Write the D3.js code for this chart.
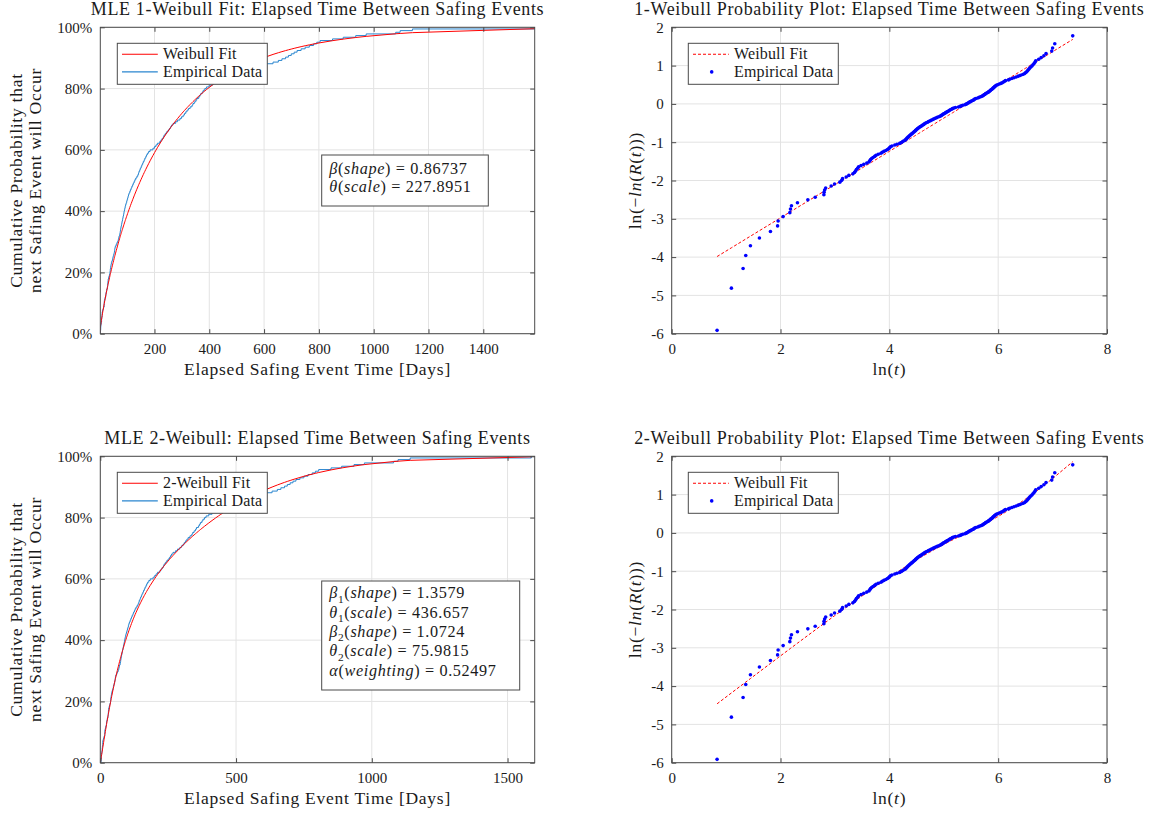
<!DOCTYPE html>
<html>
<head>
<meta charset="utf-8">
<script src="https://cdn.jsdelivr.net/npm/d3@7"></script>
<style>
  body { margin: 0; background: #fff; }
  svg text { font-family: "Liberation Serif", "Times New Roman", serif; fill: #1a1a1a; }
</style>
</head>
<body>
<svg id="chart" width="1152" height="815"></svg>
<script>
// Elapsed time between consecutive safing events, as ln(days), sorted ascending.
const logElapsedDays = [
  0.834, 1.097, 1.312, 1.361, 1.447, 1.612, 1.815, 1.946, 1.956, 2.048,
  2.171, 2.183, 2.201, 2.311, 2.502, 2.637, 2.797, 2.800, 2.810, 2.830,
  2.931, 2.993, 3.090, 3.125, 3.140, 3.207, 3.256, 3.330, 3.360, 3.380,
  3.395, 3.416, 3.435, 3.480, 3.530, 3.585, 3.625, 3.640, 3.655, 3.675,
  3.700, 3.730, 3.755, 3.795, 3.845, 3.870, 3.900, 3.935, 3.965, 3.990,
  4.005, 4.020, 4.048, 4.100, 4.140, 4.190, 4.220, 4.240, 4.260, 4.290,
  4.305, 4.320, 4.330, 4.345, 4.360, 4.375, 4.390, 4.405, 4.420, 4.435,
  4.450, 4.465, 4.480, 4.490, 4.505, 4.520, 4.535, 4.550, 4.570, 4.590,
  4.605, 4.625, 4.640, 4.655, 4.675, 4.700, 4.720, 4.745, 4.765, 4.790,
  4.810, 4.835, 4.855, 4.880, 4.910, 4.935, 4.955, 4.965, 4.985, 5.000,
  5.020, 5.035, 5.055, 5.070, 5.090, 5.105, 5.125, 5.140, 5.160, 5.185,
  5.215, 5.270, 5.300, 5.325, 5.350, 5.390, 5.410, 5.430, 5.450, 5.460,
  5.480, 5.500, 5.520, 5.540, 5.555, 5.570, 5.590, 5.625, 5.650, 5.680,
  5.700, 5.720, 5.735, 5.750, 5.765, 5.780, 5.800, 5.820, 5.830, 5.845,
  5.860, 5.870, 5.890, 5.900, 5.910, 5.925, 5.935, 5.950, 5.965, 5.990,
  6.020, 6.050, 6.075, 6.095, 6.115, 6.135, 6.190, 6.210, 6.250, 6.290,
  6.330, 6.370, 6.410, 6.450, 6.480, 6.500, 6.520, 6.535, 6.550, 6.565,
  6.580, 6.600, 6.620, 6.640, 6.660, 6.675, 6.690, 6.745, 6.790, 6.840,
  6.880, 6.985, 7.000, 7.040, 7.370
];

// Maximum-likelihood fit parameters
const oneWeibullShape = 0.86737;
const oneWeibullScale = 227.8951;
const twoWeibullShapes = [1.3579, 1.0724];
const twoWeibullScales = [436.657, 75.9815];
const twoWeibullWeight = 0.52497;

// Tick values
const percentTicks = [0, 0.2, 0.4, 0.6, 0.8, 1];
const dayTicksFit1 = [200, 400, 600, 800, 1000, 1200, 1400];
const dayTicksFit2 = [0, 500, 1000, 1500];
const dayDomainFit2 = [0, 1600];
const lnTimeTicks = [0, 2, 4, 6, 8];
const lnLnTicks = [-6, -5, -4, -3, -2, -1, 0, 1, 2];

// ---------------------------------------------------------------------------
const nEvents = logElapsedDays.length;
const elapsedDays = logElapsedDays.map(Math.exp);

const weibullCdf = (t, k, lam) => 1 - Math.exp(-Math.pow(t / lam, k));
const oneWeibullCdf = t => weibullCdf(t, oneWeibullShape, oneWeibullScale);
const twoWeibullCdf = t =>
  twoWeibullWeight * weibullCdf(t, twoWeibullShapes[0], twoWeibullScales[0]) +
  (1 - twoWeibullWeight) * weibullCdf(t, twoWeibullShapes[1], twoWeibullScales[1]);

// empirical CDF steps and probability-plot positions
const ecdfSteps = [[elapsedDays[0], 0]].concat(elapsedDays.map((t, i) => [t, (i + 1) / nEvents]));
const probPoints = logElapsedDays.map((lt, i) => [lt, Math.log(-Math.log(1 - (i + 0.5) / nEvents))]);

const fitTimes = [0].concat(elapsedDays);
const fit1Curve = fitTimes.map(t => [t, oneWeibullCdf(t)]);
const fit2Curve = fitTimes.map(t => [t, twoWeibullCdf(t)]);
const fit1Line = logElapsedDays.map(lt => [lt, oneWeibullShape * (lt - Math.log(oneWeibullScale))]);
const fit2Line = logElapsedDays.map(lt => [lt, Math.log(-Math.log(1 - twoWeibullCdf(Math.exp(lt))))]);

// ---------------------------------------------------------------------------
const svg = d3.select("#chart");
const SERIF = '"Liberation Serif", "Times New Roman", serif';
const BLUE_LINE = "#2a86cf";
const RED = "#ff0000";
const DOT_BLUE = "#0000ff";
const FRAME = "#4a4a4a";
const GRID = "#e3e3e3";
const TICK_TEXT = "#262626";

const colLeft = [100.3, 534.7];
const colRight = [671.7, 1107];
const rowTop = [27.3, 333.7];
const rowBottom = [456.3, 762.7];

function addRich(textSel, parts, fs) {
  let shifted = false;
  parts.forEach(p => {
    const ts = textSel.append("tspan").text(p.t);
    if (p.i) ts.attr("font-style", "italic");
    if (p.sub) {
      ts.attr("font-size", fs * 0.7).attr("dy", fs * 0.28);
      shifted = true;
    } else if (shifted) {
      ts.attr("dy", -fs * 0.28);
      shifted = false;
    }
  });
}

function panel(cfg) {
  const g = svg.append("g");
  const x = cfg.x, y = cfg.y;
  const [xa, xb] = x.range();
  const [yb, ya] = y.range();

  // grid
  const grid = g.append("g").attr("stroke", GRID).attr("stroke-width", 1);
  grid.selectAll("line.gx").data(cfg.xTicks).join("line").attr("class", "gx")
    .attr("x1", d => x(d)).attr("x2", d => x(d)).attr("y1", ya).attr("y2", yb);
  grid.selectAll("line.gy").data(cfg.yTicks).join("line").attr("class", "gy")
    .attr("y1", d => y(d)).attr("y2", d => y(d)).attr("x1", xa).attr("x2", xb);

  // data, clipped to the axes
  const clipId = "clip-" + cfg.key;
  svg.append("clipPath").attr("id", clipId).append("rect")
    .attr("x", xa).attr("y", ya).attr("width", xb - xa).attr("height", yb - ya);
  const plot = g.append("g").attr("clip-path", `url(#${clipId})`);
  cfg.draw(plot, x, y);

  // axes with inward ticks on all four sides
  const styleAxis = sel => {
    sel.select(".domain").remove();
    sel.selectAll(".tick line").attr("stroke", FRAME);
    sel.selectAll(".tick text").attr("fill", TICK_TEXT).attr("font-family", SERIF).attr("font-size", 15);
  };
  g.append("g").attr("transform", `translate(0,${yb})`)
    .call(d3.axisBottom(x).tickValues(cfg.xTicks).tickSize(-4.5).tickPadding(10).tickFormat(cfg.xFmt))
    .call(styleAxis);
  g.append("g").attr("transform", `translate(0,${ya})`)
    .call(d3.axisTop(x).tickValues(cfg.xTicks).tickSize(-4.5).tickFormat(""))
    .call(styleAxis);
  g.append("g").attr("transform", `translate(${xa},0)`)
    .call(d3.axisLeft(y).tickValues(cfg.yTicks).tickSize(-4.5).tickPadding(8).tickFormat(cfg.yFmt))
    .call(styleAxis);
  g.append("g").attr("transform", `translate(${xb},0)`)
    .call(d3.axisRight(y).tickValues(cfg.yTicks).tickSize(-4.5).tickFormat(""))
    .call(styleAxis);

  g.append("rect").attr("x", xa).attr("y", ya).attr("width", xb - xa).attr("height", yb - ya)
    .attr("fill", "none").attr("stroke", FRAME).attr("stroke-width", 1);

  // title, kept clear of the top tick label
  g.append("text").attr("x", (xa + xb) / 2).attr("y", ya - 12.7)
    .attr("text-anchor", "middle").attr("font-size", 18).attr("letter-spacing", 0.65)
    .text(cfg.title);

  // x label
  const xl = g.append("text").attr("x", (xa + xb) / 2).attr("y", yb + 41.5)
    .attr("text-anchor", "middle").attr("font-size", 17.5).attr("letter-spacing", 0.75);
  addRich(xl, cfg.xLabel, 17.5);

  // y label (one or more lines)
  const yc = (ya + yb) / 2;
  cfg.yLabel.forEach(line => {
    const t = g.append("text").attr("transform", `translate(0,${yc}) rotate(-90)`)
      .attr("x", 0).attr("y", line.base).attr("text-anchor", "middle")
      .attr("font-size", 17.5).attr("letter-spacing", 0.75);
    addRich(t, line.parts, 17.5);
  });

  // legend
  const L = cfg.legend;
  const lg = g.append("g").attr("transform", `translate(${L.x},${L.y})`);
  lg.append("rect").attr("width", 150).attr("height", 41).attr("fill", "#fff")
    .attr("stroke", FRAME).attr("stroke-width", 1);
  L.entries.forEach((e, k) => {
    const cy = 11 + k * 17.6;
    if (e.kind === "dot") {
      lg.append("circle").attr("cx", 23.4).attr("cy", cy).attr("r", 1.8).attr("fill", e.color);
    } else {
      lg.append("line").attr("x1", 4.7).attr("x2", 40.5).attr("y1", cy).attr("y2", cy)
        .attr("stroke", e.color).attr("stroke-width", 1.1)
        .attr("stroke-dasharray", e.kind === "dash" ? "3,2" : null);
    }
    lg.append("text").attr("x", 45.7).attr("y", cy + 4.9).attr("font-size", 16)
      .attr("letter-spacing", 0.15).text(e.label);
  });

  // parameter box
  if (cfg.params) {
    const P = cfg.params;
    const pg = g.append("g").attr("transform", `translate(${P.x},${P.y})`);
    pg.append("rect").attr("width", P.w).attr("height", P.h).attr("fill", "#fff")
      .attr("stroke", FRAME).attr("stroke-width", 1);
    P.lines.forEach((parts, k) => {
      const t = pg.append("text").attr("x", 7.6).attr("y", P.first + k * P.step)
        .attr("font-size", 16.2).attr("letter-spacing", 0.65);
      addRich(t, parts, 16.2);
    });
  }
}

// ---------------------------------------------------------------------------
const pct = d => Math.round(d * 100) + "%";
const plain = d => String(d);

const drawCdf = curve => (plot, x, y) => {
  plot.append("path").datum(ecdfSteps)
    .attr("d", d3.line().x(d => x(d[0])).y(d => y(d[1])).curve(d3.curveStepAfter))
    .attr("fill", "none").attr("stroke", BLUE_LINE).attr("stroke-width", 1);
  plot.append("path").datum(curve)
    .attr("d", d3.line().x(d => x(d[0])).y(d => y(d[1])))
    .attr("fill", "none").attr("stroke", RED).attr("stroke-width", 1);
};

const drawProb = fitLine => (plot, x, y) => {
  plot.append("path").datum(fitLine)
    .attr("d", d3.line().x(d => x(d[0])).y(d => y(d[1])))
    .attr("fill", "none").attr("stroke", RED).attr("stroke-width", 1)
    .attr("stroke-dasharray", "3,2");
  plot.selectAll("circle").data(probPoints).join("circle")
    .attr("cx", d => x(d[0])).attr("cy", d => y(d[1])).attr("r", 1.8).attr("fill", DOT_BLUE);
};

const cdfYLabel = [
  { base: 22, parts: [{ t: "Cumulative Probability that" }] },
  { base: 41, parts: [{ t: "next Safing Event will Occur" }] }
];
const probYLabel = [
  { base: 641, parts: [{ t: "ln(−" }, { t: "ln", i: true }, { t: "(" }, { t: "R", i: true },
    { t: "(" }, { t: "t", i: true }, { t: ")))" }] }
];
const daysLabel = [{ t: "Elapsed Safing Event Time [Days]" }];
const lnTLabel = [{ t: "ln(" }, { t: "t", i: true }, { t: ")" }];

// MLE 1-Weibull CDF
panel({
  key: "fit1",
  x: d3.scaleLinear().domain(d3.extent(elapsedDays)).range(colLeft),
  y: d3.scaleLinear().domain([0, 1]).range(rowTop.slice().reverse()),
  xTicks: dayTicksFit1, yTicks: percentTicks, xFmt: plain, yFmt: pct,
  title: "MLE 1-Weibull Fit: Elapsed Time Between Safing Events",
  xLabel: daysLabel, yLabel: cdfYLabel,
  draw: drawCdf(fit1Curve),
  legend: { x: 117.3, y: 43.3, entries: [
    { label: "Weibull Fit", kind: "line", color: RED },
    { label: "Empirical Data", kind: "line", color: BLUE_LINE }] },
  params: { x: 321.7, y: 155, w: 166.6, h: 51, first: 18.5, step: 18, lines: [
    [{ t: "β", i: true }, { t: "(" }, { t: "shape", i: true }, { t: ") = " + oneWeibullShape }],
    [{ t: "θ", i: true }, { t: "(" }, { t: "scale", i: true }, { t: ") = " + oneWeibullScale }]] }
});

// 1-Weibull probability plot
panel({
  key: "prob1",
  x: d3.scaleLinear().domain([0, 8]).range(colRight),
  y: d3.scaleLinear().domain([-6, 2]).range(rowTop.slice().reverse()),
  xTicks: lnTimeTicks, yTicks: lnLnTicks, xFmt: plain, yFmt: plain,
  title: "1-Weibull Probability Plot: Elapsed Time Between Safing Events",
  xLabel: lnTLabel, yLabel: probYLabel,
  draw: drawProb(fit1Line),
  legend: { x: 688.3, y: 43.3, entries: [
    { label: "Weibull Fit", kind: "dash", color: RED },
    { label: "Empirical Data", kind: "dot", color: DOT_BLUE }] }
});

// MLE 2-Weibull CDF
panel({
  key: "fit2",
  x: d3.scaleLinear().domain(dayDomainFit2).range(colLeft),
  y: d3.scaleLinear().domain([0, 1]).range(rowBottom.slice().reverse()),
  xTicks: dayTicksFit2, yTicks: percentTicks, xFmt: plain, yFmt: pct,
  title: "MLE 2-Weibull: Elapsed Time Between Safing Events",
  xLabel: daysLabel, yLabel: cdfYLabel,
  draw: drawCdf(fit2Curve),
  legend: { x: 117.3, y: 472.3, entries: [
    { label: "2-Weibull Fit", kind: "line", color: RED },
    { label: "Empirical Data", kind: "line", color: BLUE_LINE }] },
  params: { x: 321.7, y: 581, w: 198, h: 109, first: 17.3, step: 19.3, lines: [
    [{ t: "β", i: true }, { t: "1", sub: true }, { t: "(" }, { t: "shape", i: true }, { t: ") = " + twoWeibullShapes[0] }],
    [{ t: "θ", i: true }, { t: "1", sub: true }, { t: "(" }, { t: "scale", i: true }, { t: ") = " + twoWeibullScales[0] }],
    [{ t: "β", i: true }, { t: "2", sub: true }, { t: "(" }, { t: "shape", i: true }, { t: ") = " + twoWeibullShapes[1] }],
    [{ t: "θ", i: true }, { t: "2", sub: true }, { t: "(" }, { t: "scale", i: true }, { t: ") = " + twoWeibullScales[1] }],
    [{ t: "α", i: true }, { t: "(" }, { t: "weighting", i: true }, { t: ") = " + twoWeibullWeight }]] }
});

// 2-Weibull probability plot
panel({
  key: "prob2",
  x: d3.scaleLinear().domain([0, 8]).range(colRight),
  y: d3.scaleLinear().domain([-6, 2]).range(rowBottom.slice().reverse()),
  xTicks: lnTimeTicks, yTicks: lnLnTicks, xFmt: plain, yFmt: plain,
  title: "2-Weibull Probability Plot: Elapsed Time Between Safing Events",
  xLabel: lnTLabel, yLabel: probYLabel,
  draw: drawProb(fit2Line),
  legend: { x: 688.3, y: 472.3, entries: [
    { label: "Weibull Fit", kind: "dash", color: RED },
    { label: "Empirical Data", kind: "dot", color: DOT_BLUE }] }
});
</script>
</body>
</html>
